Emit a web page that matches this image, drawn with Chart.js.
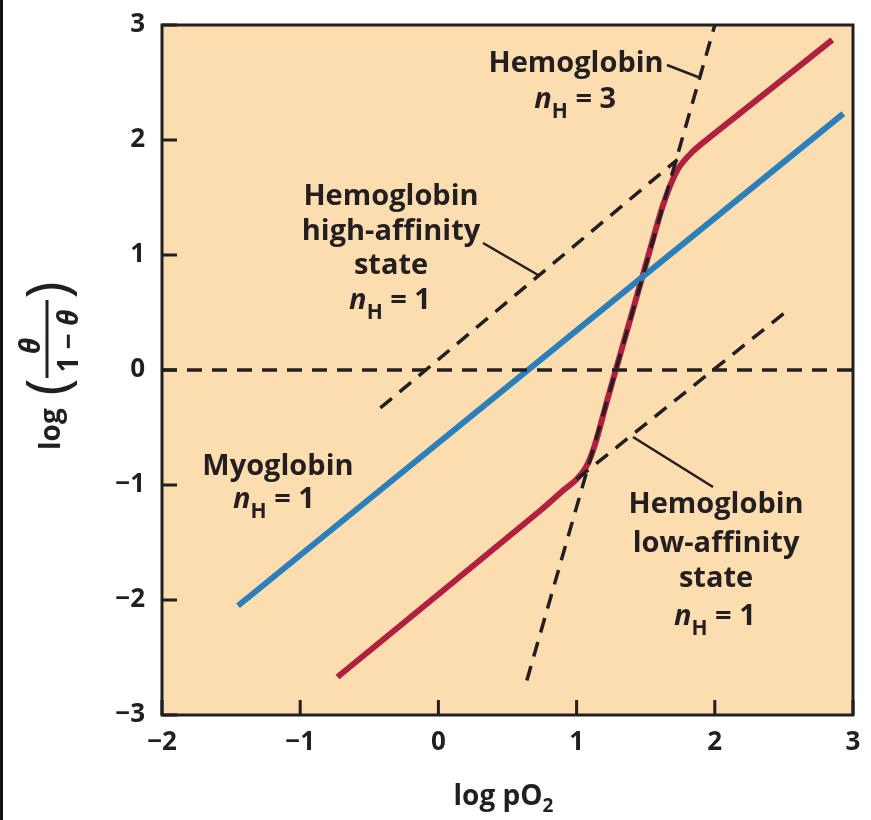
<!DOCTYPE html>
<html>
<head>
<meta charset="utf-8">
<style>
  html, body { margin: 0; padding: 0; background: #fff; }
</style>
</head>
<body>
<canvas id="c" width="871" height="820"></canvas>
<script src="https://cdn.jsdelivr.net/npm/chart.js@4.4.1/dist/chart.umd.min.js"></script>
<script>
// axis ticks
const xTicks = [-2, -1, 0, 1, 2, 3];
const yTicks = [-3, -2, -1, 0, 1, 2, 3];

// myoglobin, n_H = 1
const myoX = [-1.45, 2.93];
const myoY = [-2.05, 2.23];

// hemoglobin (sigmoid in Hill plot)
const hbX = [-0.73, 0.74, 0.90, 1.0, 1.07, 1.13, 1.22, 1.30, 1.40, 1.53, 1.63, 1.73, 1.84, 1.96, 2.85];
const hbY = [-2.67, -1.22, -1.05, -0.95, -0.84, -0.66, -0.27, 0.07, 0.49, 1.04, 1.45, 1.74, 1.90, 2.02, 2.87];

// dashed reference lines
const zeroX = [-2, 3];
const zeroY = [0, 0];
const highX = [-0.42, 1.73];
const highY = [-0.33, 1.83];
const hillX = [0.64, 2.0];
const hillY = [-2.70, 3.0];
const lowX = [1.0, 2.55];
const lowY = [-0.95, 0.54];

// leader lines for the labels
const lead3X = [1.654, 1.878];
const lead3Y = [2.652, 2.548];
const leadHiX = [0.323, 0.721];
const leadHiY = [1.104, 0.826];
const leadLoX = [1.408, 1.987];
const leadLoY = [-0.583, -1.017];

const FONT = "'Open Sans', 'Noto Sans', sans-serif";
const ink = '#231F20';

const pts = (xs, ys) => xs.map((v, i) => ({ x: v, y: ys[i] }));

function dashed(xs, ys) {
  return { data: pts(xs, ys), borderColor: ink, borderWidth: 3.5, borderDash: [15, 10], tension: 0 };
}
function leader(xs, ys) {
  return { data: pts(xs, ys), borderColor: ink, borderWidth: 2.5, tension: 0 };
}

const nH = v => [
  { t: 'n', font: 'italic bold 29px ' + FONT },
  { t: 'H', font: 'bold 21px ' + FONT, dy: 10 },
  { t: ' = ' + v, font: 'bold 29px ' + FONT }
];
const word = t => [{ t: t, font: 'bold 29px ' + FONT }];

// label blocks: anchor in data units (centre x, baseline y)
const notes = [
  { x: 0.996, y: 2.591, parts: word('Hemoglobin') },
  { x: 0.99, y: 2.278, parts: nH(3) },
  { x: -0.343, y: 1.435, parts: word('Hemoglobin') },
  { x: -0.343, y: 1.13, parts: word('high-affinity') },
  { x: -0.343, y: 0.835, parts: word('state') },
  { x: -0.35, y: 0.53, parts: nH(1) },
  { x: -1.161, y: -0.913, parts: word('Myoglobin') },
  { x: -1.19, y: -1.2, parts: nH(1) },
  { x: 2.009, y: -1.243, parts: word('Hemoglobin') },
  { x: 2.009, y: -1.583, parts: word('low-affinity') },
  { x: 2.009, y: -1.887, parts: word('state') },
  { x: 2.0, y: -2.217, parts: nH(1) }
];

function drawParts(ctx, parts, cx, by) {
  let w = 0;
  parts.forEach(p => { ctx.font = p.font; p.w = ctx.measureText(p.t).width; w += p.w; });
  let xx = cx - w / 2;
  parts.forEach(p => { ctx.font = p.font; ctx.fillText(p.t, xx, by + (p.dy || 0)); xx += p.w; });
}

const decor = {
  id: 'decor',
  beforeDraw(chart) {
    const { ctx, chartArea: a } = chart;
    ctx.save();
    ctx.fillStyle = '#FBDDB0';
    ctx.fillRect(a.left, a.top, a.right - a.left, a.bottom - a.top);
    ctx.restore();
  },
  beforeDatasetsDraw(chart) {
    const { ctx, chartArea: a, scales: { x, y } } = chart;
    ctx.save();
    ctx.strokeStyle = ink;
    ctx.lineWidth = 3;
    ctx.beginPath();
    xTicks.forEach(v => {
      const px = x.getPixelForValue(v);
      ctx.moveTo(px, a.bottom); ctx.lineTo(px, a.bottom - 15);
    });
    yTicks.forEach(v => {
      const py = y.getPixelForValue(v);
      ctx.moveTo(a.left, py); ctx.lineTo(a.left + 15, py);
    });
    ctx.stroke();
    ctx.restore();
  },
  afterDatasetsDraw(chart) {
    const { ctx, chartArea: a, scales: { x, y } } = chart;
    ctx.save();
    // frame
    ctx.strokeStyle = ink;
    ctx.lineWidth = 3;
    ctx.strokeRect(a.left, a.top, a.right - a.left, a.bottom - a.top);
    // edge line at far left
    ctx.fillStyle = '#111';
    ctx.fillRect(0, 0, 3, chart.height);

    ctx.fillStyle = ink;
    ctx.textAlign = 'left';
    ctx.textBaseline = 'alphabetic';
    notes.forEach(n => drawParts(ctx, n.parts, x.getPixelForValue(n.x), y.getPixelForValue(n.y)));

    // x title
    drawParts(ctx, [
      { t: 'log pO', font: 'bold 28px ' + FONT },
      { t: '2', font: 'bold 19px ' + FONT, dy: 7 }
    ], (a.left + a.right) / 2 - 4, 805);

    // y title, rotated
    ctx.translate(50, 370);
    ctx.rotate(-Math.PI / 2);
    ctx.font = 'bold 28px ' + FONT;
    ctx.fillText('log', -80, 10);
    ctx.textAlign = 'center';
    ctx.font = '58px ' + FONT;
    ctx.fillText('(', -17, 18);
    ctx.fillText(')', 80, 18);
    ctx.font = 'italic bold 28px ' + FONT;
    ctx.fillText('\u03B8', 24, -10);
    ctx.textAlign = 'left';
    drawParts(ctx, [
      { t: '1 \u2212 ', font: 'bold 28px ' + FONT },
      { t: '\u03B8', font: 'italic bold 28px ' + FONT }
    ], 29, 28);
    ctx.lineWidth = 3;
    ctx.beginPath();
    ctx.moveTo(-8, -3); ctx.lineTo(70, -3);
    ctx.stroke();
    ctx.restore();
  }
};

const tickFont = { family: FONT, size: 26, weight: 'bold' };
const minus = v => String(v).replace('-', '\u2212');

new Chart(document.getElementById('c'), {
  type: 'line',
  data: {
    datasets: [
      dashed(zeroX, zeroY),
      dashed(highX, highY),
      dashed(hillX, hillY),
      dashed(lowX, lowY),
      leader(lead3X, lead3Y),
      leader(leadHiX, leadHiY),
      leader(leadLoX, leadLoY),
      { data: pts(myoX, myoY), borderColor: '#2B7FBA', borderWidth: 6, tension: 0, borderCapStyle: 'butt' },
      { data: pts(hbX, hbY), borderColor: '#B22040', borderWidth: 6, tension: 0.3, borderCapStyle: 'butt' }
    ]
  },
  options: {
    responsive: false,
    devicePixelRatio: 1,
    animation: false,
    layout: { padding: { top: 25, right: 18, left: 0, bottom: 0 } },
    elements: { point: { radius: 0 } },
    plugins: { legend: { display: false }, tooltip: { enabled: false } },
    scales: {
      x: {
        type: 'linear', min: -2, max: 3,
        afterBuildTicks: s => { s.ticks = xTicks.map(v => ({ value: v })); },
        afterFit: s => { s.height = 105; s.paddingLeft = 0; s.paddingRight = 0; },
        grid: { display: false, drawTicks: false },
        border: { display: false },
        ticks: { font: tickFont, color: ink, padding: 12, maxRotation: 0, callback: minus }
      },
      y: {
        type: 'linear', min: -3, max: 3,
        afterBuildTicks: s => { s.ticks = yTicks.map(v => ({ value: v })); },
        afterFit: s => { s.width = 162; s.paddingTop = 0; s.paddingBottom = 0; },
        grid: { display: false, drawTicks: false },
        border: { display: false },
        ticks: { font: tickFont, color: ink, padding: 17, callback: minus }
      }
    }
  },
  plugins: [decor]
});
</script>
</body>
</html>
